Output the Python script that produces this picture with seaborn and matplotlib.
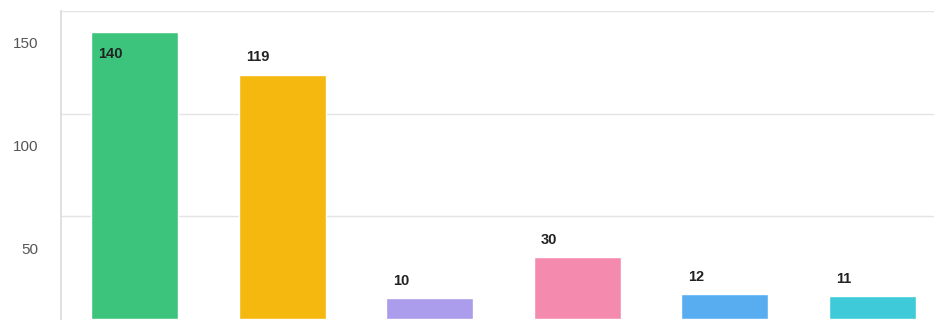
import matplotlib
matplotlib.use("Agg")
import matplotlib.pyplot as plt
import matplotlib.transforms as mtransforms
import pandas as pd
import seaborn as sns

categories = ["A", "B", "C", "D", "E", "F"]
values = [140, 119, 10, 30, 12, 11]
colors = ["#3CC47C", "#F5B80F", "#AB9DEB", "#F48BAE", "#58ADF1", "#3FCADA"]
yticks = [50, 100, 150]

sns.set_theme(style="white")
plt.rcParams["font.family"] = ["Liberation Sans", "DejaVu Sans"]

df = pd.DataFrame({"cat": categories, "val": values})

fig = plt.figure(figsize=(9.34, 3.2), dpi=100)
ax = fig.add_axes([61 / 934, 1 / 320, (946 - 61) / 934, 308 / 320])
sns.barplot(data=df, x="cat", y="val", hue="cat", palette=colors,
            width=0.59, legend=False, saturation=1, ax=ax)

ax.set_xlim(-0.5, 5.5)
ax.set_ylim(0, 150)
ax.set_yticks(yticks)
ax.set_yticklabels([str(t) for t in yticks], fontsize=11, color="#555555")
ax.tick_params(axis="y", length=0, pad=16.5)
ax.set_xticks([])
ax.set_xlabel(""); ax.set_ylabel("")
ax.yaxis.grid(True, color="#e4e4e4", lw=1)
ax.set_axisbelow(True)
for s in ("top", "right", "bottom"):
    ax.spines[s].set_visible(False)
ax.spines["left"].set_color("#dcdcdc")

# tick labels sit below their gridlines in the original
shift = mtransforms.ScaledTranslation(0, -0.32, fig.dpi_scale_trans)
for lab in ax.get_yticklabels():
    lab.set_transform(lab.get_transform() + shift)

for i, v in enumerate(values):
    dy = -16 if v + 12 > 150 else 12.5
    ax.annotate(str(v), (i - 0.295, v), xytext=(5, dy), textcoords="offset points",
                ha="left", va="center", fontsize=10.5, fontweight="bold", color="#222222")

fig.savefig("out.png", dpi=100)
